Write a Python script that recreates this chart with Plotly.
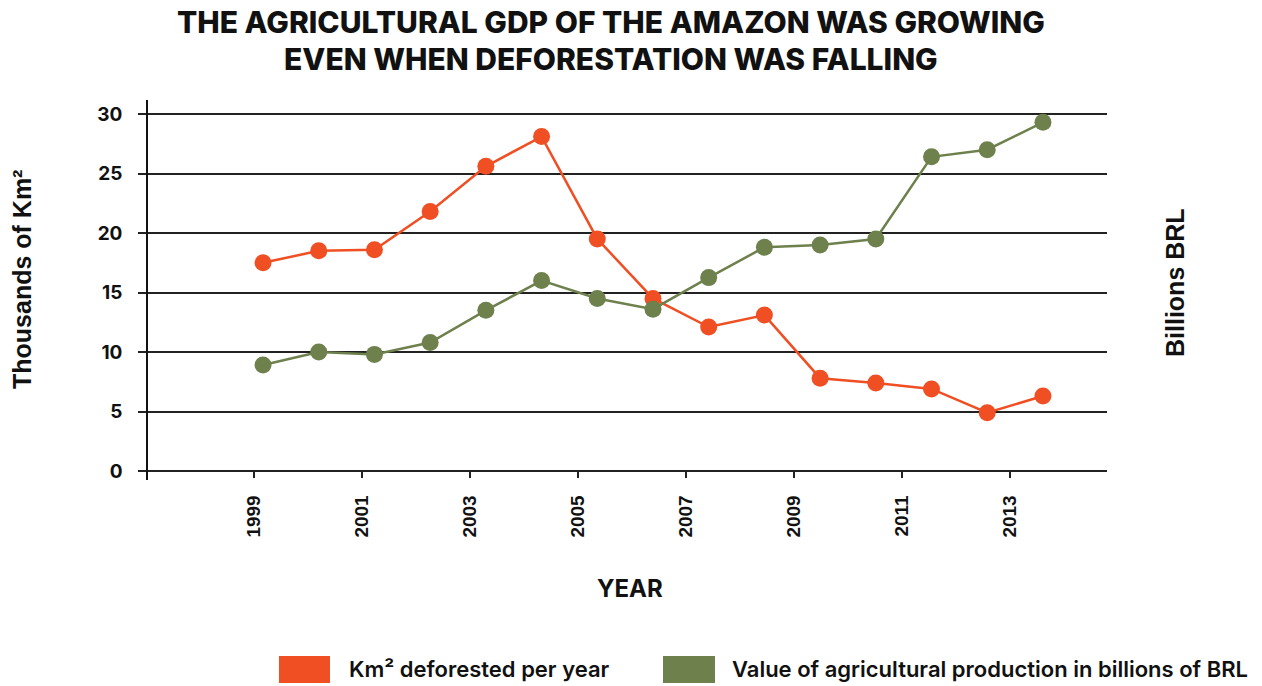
import plotly.graph_objects as go

years = list(range(1999, 2014))
deforested = [17.5, 18.5, 18.6, 21.8, 25.6, 28.1, 19.5, 14.5, 12.1, 13.1, 7.8, 7.4, 6.9, 4.9, 6.3]
agri_value = [8.9, 10.0, 9.8, 10.8, 13.5, 16.0, 14.5, 13.6, 16.25, 18.8, 19.0, 19.5, 26.4, 27.0, 29.3]
tick_labels = ["1999", "2001", "2003", "2005", "2007", "2009", "2011", "2013"]
y_ticks = [0, 5, 10, 15, 20, 25, 30]
title_lines = ["THE AGRICULTURAL GDP OF THE AMAZON WAS GROWING",
               "EVEN WHEN DEFORESTATION WAS FALLING"]

RED = "#F04E23"
GREEN = "#6E814D"
TITLE_FONT = "Inter"
AXIS_FONT = "Liberation Sans"

fig = go.Figure()
fig.add_trace(go.Scatter(x=years, y=deforested, mode="lines+markers",
                         line=dict(color=RED, width=2.5),
                         marker=dict(color=RED, size=17),
                         name="Km² deforested per year"))
fig.add_trace(go.Scatter(x=years, y=agri_value, mode="lines+markers",
                         line=dict(color=GREEN, width=2.5),
                         marker=dict(color=GREEN, size=17),
                         name="Value of agricultural production in billions of BRL"))

# tick positions in the original sit slightly off the data years
tick_start = years[0] - 0.162
tick_step = 1.939
tickvals = [tick_start + i * tick_step for i in range(len(tick_labels))]

y_lo, y_hi = -0.756, 31.176
fig.update_layout(
    width=1262, height=686,
    margin=dict(l=148, r=155, t=100, b=206),
    paper_bgcolor="white", plot_bgcolor="white",
    showlegend=False,
    xaxis=dict(range=[1996.935, 2014.15], tickvals=tickvals, ticktext=tick_labels,
               tickangle=-90, ticks="outside", ticklen=6, tickcolor="#222", tickwidth=1.5,
               showgrid=False, zeroline=False, showline=True, linecolor="#222", linewidth=1.5,
               anchor="free", position=(0 - y_lo) / (y_hi - y_lo),
               tickfont=dict(family=AXIS_FONT, size=19, color="#111", weight="bold"),
               ticklabelstandoff=10),
    yaxis=dict(range=[y_lo, y_hi], tickvals=y_ticks, ticks="outside", ticklen=8,
               tickcolor="#222", tickwidth=1.5,
               showgrid=True, gridcolor="#222", gridwidth=1.5, zeroline=False,
               showline=True, linecolor="#111", linewidth=1.5,
               tickfont=dict(family=TITLE_FONT, size=19, color="#111", weight="bold"),
               ticklabelstandoff=12),
)

W, H = 959.0, 380.0
def px(x): return (x - 148) / W
def py(y): return (480 - y) / H

annotations = [
    dict(text=title_lines[0], x=px(611), y=py(22),
         font=dict(family=TITLE_FONT, size=30, color="#111", weight=800)),
    dict(text=title_lines[1], x=px(611), y=py(59),
         font=dict(family=TITLE_FONT, size=30, color="#111", weight=800)),
    dict(text="YEAR", x=px(630), y=py(588), font=dict(family=TITLE_FONT, size=24, color="#111", weight="bold")),
    dict(text="Thousands of Km²", x=px(22), y=py(280), textangle=-90,
         font=dict(family=AXIS_FONT, size=25, color="#111", weight="bold")),
    dict(text="Billions BRL", x=px(1175), y=py(283), textangle=-90,
         font=dict(family=AXIS_FONT, size=25, color="#111", weight="bold")),
    dict(text="Km² deforested per year", x=px(347), y=py(669), xanchor="left",
         font=dict(family=TITLE_FONT, size=22, color="#111", weight=600)),
    dict(text="Value of agricultural production in billions of BRL", x=px(730), y=py(669), xanchor="left",
         font=dict(family=TITLE_FONT, size=22, color="#111", weight=600)),
]
for a in annotations:
    a.update(xref="paper", yref="paper", showarrow=False)
    a.setdefault("xanchor", "center")
    a.setdefault("yanchor", "middle")
fig.update_layout(annotations=annotations)

fig.add_shape(type="rect", xref="paper", yref="paper", x0=px(279), x1=px(330), y0=py(683), y1=py(656),
              fillcolor=RED, line=dict(width=0))
fig.add_shape(type="rect", xref="paper", yref="paper", x0=px(663), x1=px(715), y0=py(683), y1=py(656),
              fillcolor=GREEN, line=dict(width=0))

fig.write_html("out.html")
